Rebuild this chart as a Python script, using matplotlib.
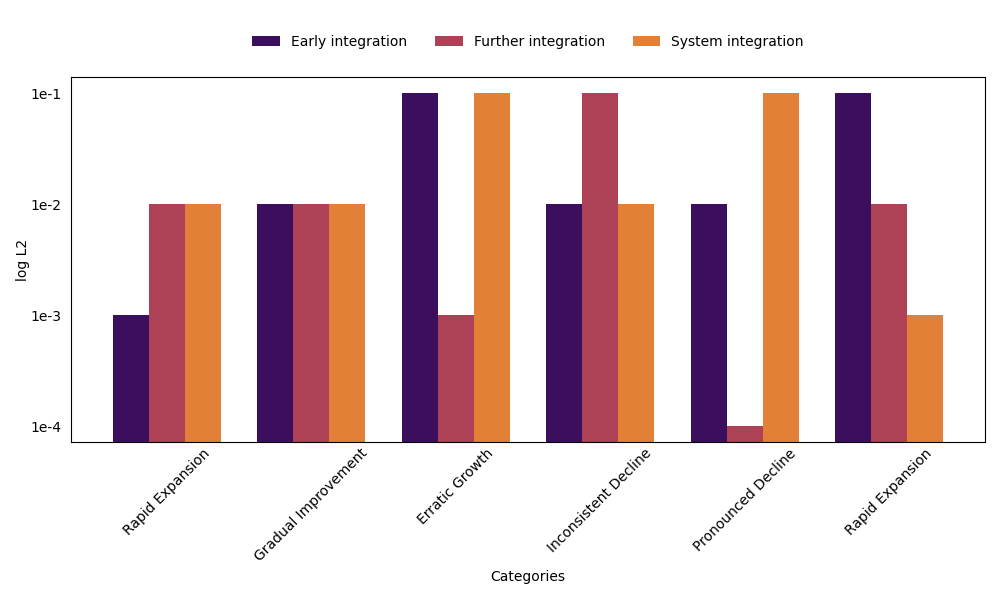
import matplotlib
import numpy as np

matplotlib.use('Agg')
import matplotlib.pyplot as plt

categories = ['Rapid Expansion', 'Gradual Improvement', 'Erratic Growth',
              'Inconsistent Decline', 'Pronounced Decline', 'Rapid Expansion']
series_names = ['Early integration', 'Further integration', 'System integration']
early = [1e-3, 1e-2, 1e-1, 1e-2, 1e-2, 1e-1]
further = [1e-2, 1e-2, 1e-3, 1e-1, 1e-4, 1e-2]
system = [1e-2, 1e-2, 1e-1, 1e-2, 1e-1, 1e-3]
y_ticks = [1e-4, 1e-3, 1e-2, 1e-1]
y_tick_labels = ['1e-4', '1e-3', '1e-2', '1e-1']

colors = ['#3c0f5e', '#ad4257', '#e38037']
width = 0.25
x = np.arange(len(categories))

fig, ax = plt.subplots(figsize=(10, 6), dpi=100)
for i, (name, vals) in enumerate(zip(series_names, [early, further, system])):
    ax.bar(x + (i - 1) * width, vals, width, color=colors[i], label=name)

ax.set_yscale('log')
ax.set_ylim(7.2e-5, 0.14)
ax.yaxis.set_major_locator(matplotlib.ticker.FixedLocator(y_ticks))
ax.yaxis.set_minor_locator(matplotlib.ticker.NullLocator())
ax.set_yticklabels(y_tick_labels)
ax.set_xticks(x)
ax.set_xticklabels(categories, rotation=45, ha='center')
ax.tick_params(axis='y', length=0, pad=7)
ax.tick_params(axis='x', length=0, pad=3)
ax.set_xlabel('Categories')
ax.set_ylabel('log L2', labelpad=0)
ax.legend(loc='upper center', bbox_to_anchor=(0.5, 1.148), ncol=3, frameon=False)

fig.subplots_adjust(left=0.071, right=0.985, top=0.872, bottom=0.263)
fig.savefig('out.png')
